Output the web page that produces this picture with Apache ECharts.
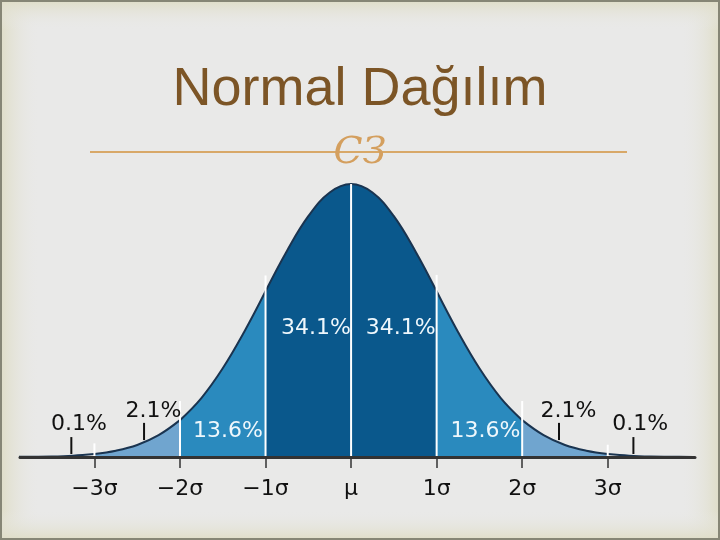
<!DOCTYPE html>
<html>
<head>
<meta charset="utf-8">
<script src="https://cdn.jsdelivr.net/npm/echarts@6/dist/echarts.min.js"></script>
<style>
  html, body { margin: 0; padding: 0; }
  #main { width: 720px; height: 540px; }
</style>
</head>
<body>
<div id="main"></div>
<script>
// curve heights (relative to peak), x in sigma units
var curveX = [-4, -3.75, -3.5, -3.25, -3, -2.75, -2.5, -2.25, -2, -1.75, -1.5, -1.25, -1, -0.75, -0.5, -0.25,
              0, 0.25, 0.5, 0.75, 1, 1.25, 1.5, 1.75, 2, 2.25, 2.5, 2.75, 3, 3.25, 3.5, 3.75, 4];
var curveY = [0.000, 0.001, 0.002, 0.005, 0.011, 0.023, 0.044, 0.080, 0.135, 0.216, 0.325, 0.458, 0.607, 0.755, 0.882, 0.969,
              1.000, 0.969, 0.882, 0.755, 0.607, 0.458, 0.325, 0.216, 0.135, 0.080, 0.044, 0.023, 0.011, 0.005, 0.002, 0.001, 0.000];

// shaded bands
var bandFrom = [-4, -3, -2, -1, 1, 2, 3];
var bandTo   = [-3, -2, -1, 1, 2, 3, 4];
var bandColor = ['rgba(0,0,0,0)', '#70a5cf', '#2a8abe', '#0a588c', '#2a8abe', '#70a5cf', 'rgba(0,0,0,0)'];

// axis ticks
var tickValues = [-3, -2, -1, 0, 1, 2, 3];
var tickLabels = ['\u22123\u03c3', '\u22122\u03c3', '\u22121\u03c3', '\u03bc', '1\u03c3', '2\u03c3', '3\u03c3'];

// white separators: x, top
var sepX   = [-3, -2, -1, 0, 1, 2, 3];
var sepTop = [0.05, 0.205, 0.665, 1.0, 0.667, 0.205, 0.045];

// black pointer ticks: x, from, to
var ptrX    = [-3.27, -2.42, 2.43, 3.30];
var ptrFrom = [0.011, 0.062, 0.062, 0.011];
var ptrTo   = [0.073, 0.125, 0.125, 0.073];

// percentage labels
var pctText = ['0.1%', '2.1%', '13.6%', '34.1%', '34.1%', '13.6%', '2.1%', '0.1%'];
var pctX    = [-3.18, -2.31, -1.44, -0.41, 0.58, 1.57, 2.54, 3.38];
var pctY    = [0.121, 0.168, 0.095, 0.473, 0.473, 0.095, 0.168, 0.121];
var pctDark = [true, true, false, false, false, false, true, true];

var myChart = echarts.init(document.getElementById('main'));

var series = [];
for (var b = 0; b < bandFrom.length; b++) {
    var pts = [];
    for (var i = 0; i < curveX.length; i++) {
        if (curveX[i] >= bandFrom[b] && curveX[i] <= bandTo[b]) {
            pts.push([curveX[i], curveY[i]]);
        }
    }
    series.push({
        type: 'line',
        data: pts,
        smooth: 0.4,
        symbol: 'none',
        silent: true,
        z: 2,
        lineStyle: {color: '#1a3450', width: 2},
        areaStyle: {color: bandColor[b], opacity: 1}
    });
}

function vline(color, width) {
    return function (params, api) {
        var p0 = api.coord([api.value(0), api.value(1)]);
        var p1 = api.coord([api.value(0), api.value(2)]);
        return {
            type: 'line',
            shape: {x1: p0[0], y1: p0[1], x2: p1[0], y2: p1[1]},
            style: {stroke: color, lineWidth: width}
        };
    };
}

series.push({
    type: 'custom',
    silent: true,
    z: 4,
    renderItem: vline('#ffffff', 2),
    data: sepX.map(function (x, i) { return [x, 0, sepTop[i]]; })
});
series.push({
    type: 'custom',
    silent: true,
    z: 4,
    renderItem: vline('#111111', 2),
    data: ptrX.map(function (x, i) { return [x, ptrFrom[i], ptrTo[i]]; })
});
series.push({
    type: 'scatter',
    silent: true,
    clip: false,
    symbolSize: 0,
    z: 5,
    itemStyle: {opacity: 1},
    data: pctText.map(function (t, i) {
        return {
            value: [pctX[i], pctY[i]],
            name: t,
            label: {color: pctDark[i] ? '#111111' : '#eef7fc'}
        };
    }),
    label: {
        show: true,
        position: 'inside',
        formatter: '{b}',
        fontFamily: 'DejaVu Sans',
        fontSize: 22,
        opacity: 1,
        textBorderWidth: 0,
        textShadowBlur: 0
    }
});

var edge = '#dfddc7';
var clear = 'rgba(233,233,232,0)';

option = {
    animation: false,
    grid: {left: 20, right: 25, top: 129.4, bottom: 83, outerBoundsMode: 'none'},
    xAxis: {
        type: 'value',
        min: -3.87,
        max: 4.02,
        z: 10,
        splitLine: {show: false},
        axisLine: {lineStyle: {color: '#333333', width: 3}},
        axisTick: {
            customValues: tickValues,
            length: 11,
            lineStyle: {color: '#333333', width: 1.5}
        },
        axisLabel: {
            customValues: tickValues,
            margin: 21,
            color: '#111111',
            fontFamily: 'DejaVu Sans',
            fontSize: 22,
            formatter: function (v) {
                var k = tickValues.indexOf(v);
                return k >= 0 ? tickLabels[k] : '';
            }
        }
    },
    yAxis: {type: 'value', min: 0, max: 1.2, show: false},
    graphic: [
        {
            type: 'rect', z: -10, silent: true,
            shape: {x: 0, y: 0, width: 720, height: 540},
            style: {fill: '#e9e9e8'}
        },
        {
            type: 'rect', z: -9, silent: true,
            shape: {x: 0, y: 0, width: 40, height: 540},
            style: {fill: new echarts.graphic.LinearGradient(0, 0, 1, 0, [
                {offset: 0, color: edge}, {offset: 1, color: clear}])}
        },
        {
            type: 'rect', z: -9, silent: true,
            shape: {x: 680, y: 0, width: 40, height: 540},
            style: {fill: new echarts.graphic.LinearGradient(1, 0, 0, 0, [
                {offset: 0, color: edge}, {offset: 1, color: clear}])}
        },
        {
            type: 'rect', z: -9, silent: true,
            shape: {x: 0, y: 0, width: 720, height: 30},
            style: {fill: new echarts.graphic.LinearGradient(0, 0, 0, 1, [
                {offset: 0, color: edge}, {offset: 1, color: clear}])}
        },
        {
            type: 'rect', z: -9, silent: true,
            shape: {x: 0, y: 510, width: 720, height: 30},
            style: {fill: new echarts.graphic.LinearGradient(0, 1, 0, 0, [
                {offset: 0, color: edge}, {offset: 1, color: clear}])}
        },
        {
            type: 'rect', z: -8, silent: true,
            shape: {x: 1, y: 1, width: 718, height: 538},
            style: {fill: 'none', stroke: '#868676', lineWidth: 2}
        },
        {
            type: 'text',
            silent: true,
            style: {
                text: 'Normal Dağılım',
                x: 360, y: 90,
                align: 'center',
                verticalAlign: 'middle',
                font: '54px "Liberation Sans", Arial, sans-serif',
                fill: '#7c5526'
            }
        },
        {
            type: 'line',
            silent: true,
            shape: {x1: 90, y1: 152, x2: 627, y2: 152},
            style: {stroke: '#d8a868', lineWidth: 2}
        },
        {
            type: 'text',
            silent: true,
            style: {
                text: 'CЗ',
                x: 360, y: 153,
                align: 'center',
                verticalAlign: 'middle',
                font: 'italic 38px "DejaVu Serif", serif',
                fill: '#d49f5e'
            }
        }
    ],
    series: series
};

myChart.setOption(option);
</script>
</body>
</html>
